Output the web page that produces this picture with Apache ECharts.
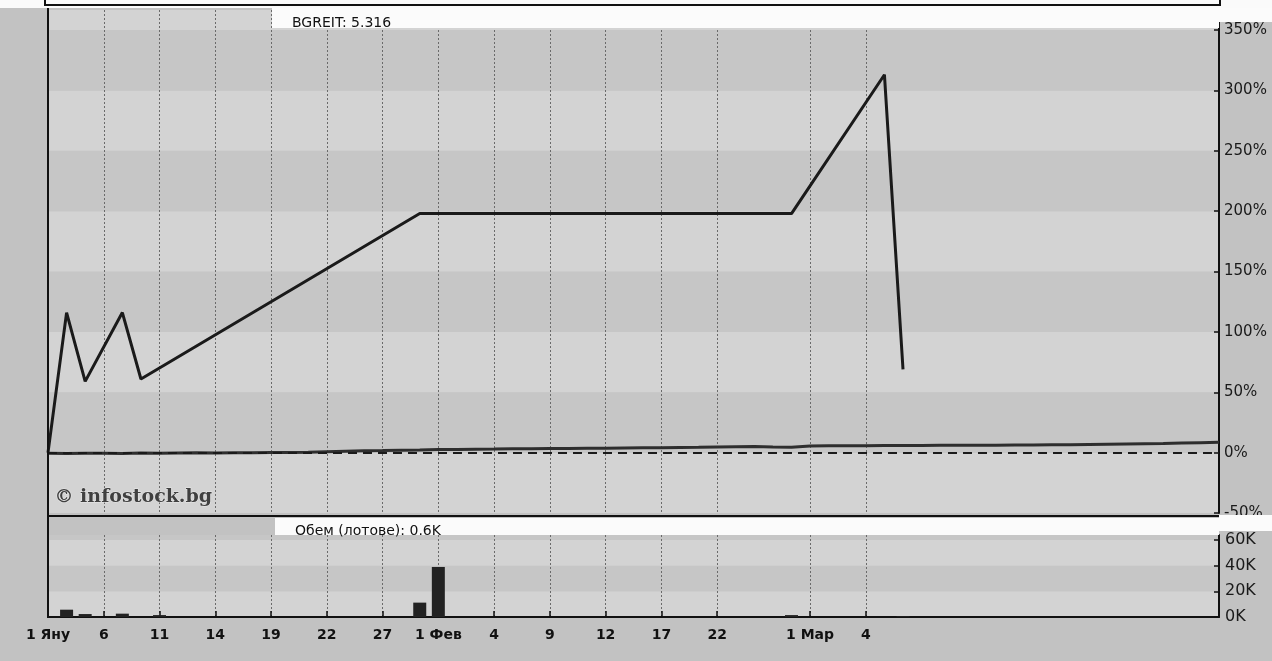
<!DOCTYPE html>
<html>
<head>
<meta charset="utf-8">
<script src="https://cdn.jsdelivr.net/npm/echarts@6/dist/echarts.min.js"></script>
<style>
html,body{margin:0;padding:0;background:#c2c2c2;}
#chart{width:1272px;height:661px;}
</style>
</head>
<body>
<div id="chart"></div>
<script>
// ---- data ----
const dates = ["01.01","03.01","04.01","06.01","08.01","10.01","11.01","12.01","13.01","14.01",
  "16.01","18.01","19.01","20.01","21.01","22.01","24.01","26.01","27.01","29.01",
  "31.01","01.02","02.02","03.02","04.02","06.02","08.02","09.02","10.02","11.02",
  "12.02","14.02","16.02","17.02","19.02","21.02","22.02","24.02","26.02","27.02",
  "28.02","01.03","02.03","03.03","04.03","05.03","06.03","07.03","10.03","11.03",
  "12.03","13.03","14.03","17.03","18.03","19.03","20.03","21.03","24.03","25.03",
  "26.03","27.03","28.03","31.03"];
const tickDates  = ["01.01","06.01","11.01","14.01","19.01","22.01","27.01","01.02","04.02","09.02","12.02","17.02","22.02","01.03","04.03"];
const tickLabels = ["1 Яну","6","11","14","19","22","27","1 Фев","4","9","12","17","22","1 Мар","4"];

// BGREIT change, % (null = no trade)
const priceChange = [0,116,59,null,116,61,null,null,null,null,
  null,null,null,null,null,null,null,null,null,null,
  198,null,null,null,null,null,null,null,null,null,
  null,null,null,null,null,null,null,null,null,null,
  198,null,null,null,null,313,69,null,null,null,
  null,null,null,null,null,null,null,null,null,null,
  null,null,null,null];
// comparison index change, %
const indexChange = [-0.5,-0.8,-0.6,-0.5,-0.7,-0.4,-0.5,-0.3,-0.2,-0.4,
  -0.1,0.0,0.2,0.1,0.4,0.8,1.2,1.5,1.7,2.0,
  2.2,2.5,2.6,2.9,3.0,3.2,3.3,3.4,3.5,3.6,
  3.7,3.9,4.0,4.1,4.3,4.4,4.6,4.8,5.0,4.6,
  4.4,5.4,5.6,5.7,5.8,5.9,6.0,6.0,6.1,6.1,
  6.2,6.2,6.3,6.4,6.5,6.6,6.8,7.0,7.2,7.4,
  7.6,7.9,8.2,8.5];
// volume, lots
const volume = [null,5700,2300,null,2600,null,1500,null,null,null,
  null,null,null,null,null,null,null,null,null,null,
  11200,39000,null,null,null,null,null,null,null,null,
  null,null,null,null,null,null,null,null,null,null,
  1500,null,null,null,null,null,600,null,null,null,
  null,null,null,null,null,null,null,null,null,null,
  null,null,null,null];
const priceTicks = {min:-50, max:366.6, interval:50};
const volTicks = {min:0, max:63900, interval:20000};
const titleText = "BGREIT: 5.316";
const volTitleText = "Обем (лотове): 0.6K";
const watermark = "© infostock.bg";

// ---- chart ----
const tickMap = {};
tickDates.forEach((d,i)=>{ tickMap[d]=tickLabels[i]; });
const isTick = (idx, val) => tickMap.hasOwnProperty(val);

const FONT = "DejaVu Sans";
const LIGHT = '#d3d3d3', DARK = '#c6c6c6';

const chart = echarts.init(document.getElementById('chart'), null, {renderer:'canvas'});
chart.setOption({
  animation:false,
  backgroundColor:'#c2c2c2',
  title:[
    {text:titleText, left:287, top:11, z:200, textStyle:{fontFamily:FONT,fontSize:14,fontWeight:'normal',color:'#111'}},
    {text:volTitleText, left:290, top:519, z:200, textStyle:{fontFamily:FONT,fontSize:14,fontWeight:'normal',color:'#111'}}
  ],
  grid:[
    {left:48, right:53, top:10, height:503},
    {left:48, right:53, top:535, height:82}
  ],
  xAxis:[
    {type:'category', gridIndex:0, data:dates, boundaryGap:false, offset:3,
     axisLine:{show:true, onZero:false, lineStyle:{color:'#111', width:2}},
     axisTick:{show:false}, axisLabel:{show:false},
     splitLine:{show:true, interval:isTick, lineStyle:{type:[2,2], color:'#6a6a6a', width:1}}},
    {type:'category', gridIndex:1, data:dates, boundaryGap:false,
     axisLine:{show:true, onZero:false, lineStyle:{color:'#111', width:2}},
     axisTick:{show:true, inside:true, length:6, interval:isTick, lineStyle:{color:'#111', width:1.5}},
     axisLabel:{show:true, interval:isTick, margin:11, fontFamily:FONT, fontSize:14, fontWeight:'bold', color:'#111',
       formatter:(v)=>tickMap[v] || ''},
     splitLine:{show:true, interval:isTick, lineStyle:{type:[2,2], color:'#6a6a6a', width:1}}}
  ],
  yAxis:[
    {type:'value', gridIndex:0, position:'right', min:priceTicks.min, max:priceTicks.max, interval:priceTicks.interval,
     axisLine:{show:true, lineStyle:{color:'#111', width:2}},
     axisTick:{show:true, inside:true, length:5, lineStyle:{color:'#111', width:1.5}},
     axisLabel:{show:true, showMaxLabel:false, margin:5, fontFamily:FONT, fontSize:15, color:'#1a1a1a', formatter:(v)=>v+'%'},
     splitLine:{show:false},
     splitArea:{show:true, areaStyle:{color:[LIGHT, DARK]}}},
    {type:'value', gridIndex:1, position:'right', min:volTicks.min, max:volTicks.max, interval:volTicks.interval,
     axisLine:{show:true, lineStyle:{color:'#111', width:2}},
     axisTick:{show:true, inside:true, length:5, lineStyle:{color:'#111', width:1.5}},
     axisLabel:{show:true, showMaxLabel:false, margin:6, fontFamily:FONT, fontSize:16, color:'#1a1a1a', formatter:(v)=>(v/1000)+'K'},
     splitLine:{show:false},
     splitArea:{show:true, areaStyle:{color:[LIGHT, DARK]}}}
  ],
  series:[
    {type:'line', name:'index', xAxisIndex:0, yAxisIndex:0, data:indexChange, showSymbol:false, symbol:'none',
     lineStyle:{color:'#2e2e2e', width:3}, z:3,
     markLine:{silent:true, symbol:'none', label:{show:false},
       lineStyle:{type:[9,6], color:'#1a1a1a', width:1.8}, data:[{yAxis:0}]}},
    {type:'line', name:'BGREIT', xAxisIndex:0, yAxisIndex:0, data:priceChange, connectNulls:true, showSymbol:false, symbol:'none',
     lineStyle:{color:'#1a1a1a', width:3}, z:4},
    {type:'bar', name:'volume', xAxisIndex:1, yAxisIndex:1, data:volume, barWidth:13,
     itemStyle:{color:'#222'}}
  ],
  graphic:[
    {type:'rect', z:100, shape:{x:0,y:0,width:1272,height:8}, style:{fill:'#fafafa'}},
    {type:'polyline', z:101, shape:{points:[[45,0],[45,5],[1220,5],[1220,0]]}, style:{stroke:'#111', lineWidth:2, fill:null}},
    {type:'rect', z:100, shape:{x:272,y:8,width:947,height:20}, style:{fill:'#fbfbfb'}},
    {type:'rect', z:100, shape:{x:1219,y:8,width:53,height:14}, style:{fill:'#fbfbfb'}},
    {type:'rect', z:100, shape:{x:275,y:518,width:944,height:17}, style:{fill:'#fbfbfb'}},
    {type:'rect', z:100, shape:{x:1219,y:515,width:53,height:16}, style:{fill:'#fbfbfb'}},
    {type:'line', z:101, shape:{x1:48,y1:8,x2:48,y2:618}, style:{stroke:'#111', lineWidth:2}},
    {type:'text', z:90, left:54, top:487, style:{text:watermark, font:'bold 19px "DejaVu Serif"', fill:'#404040', stroke:'#e8e8e8', lineWidth:1}}
  ]
});
</script>
</body>
</html>
